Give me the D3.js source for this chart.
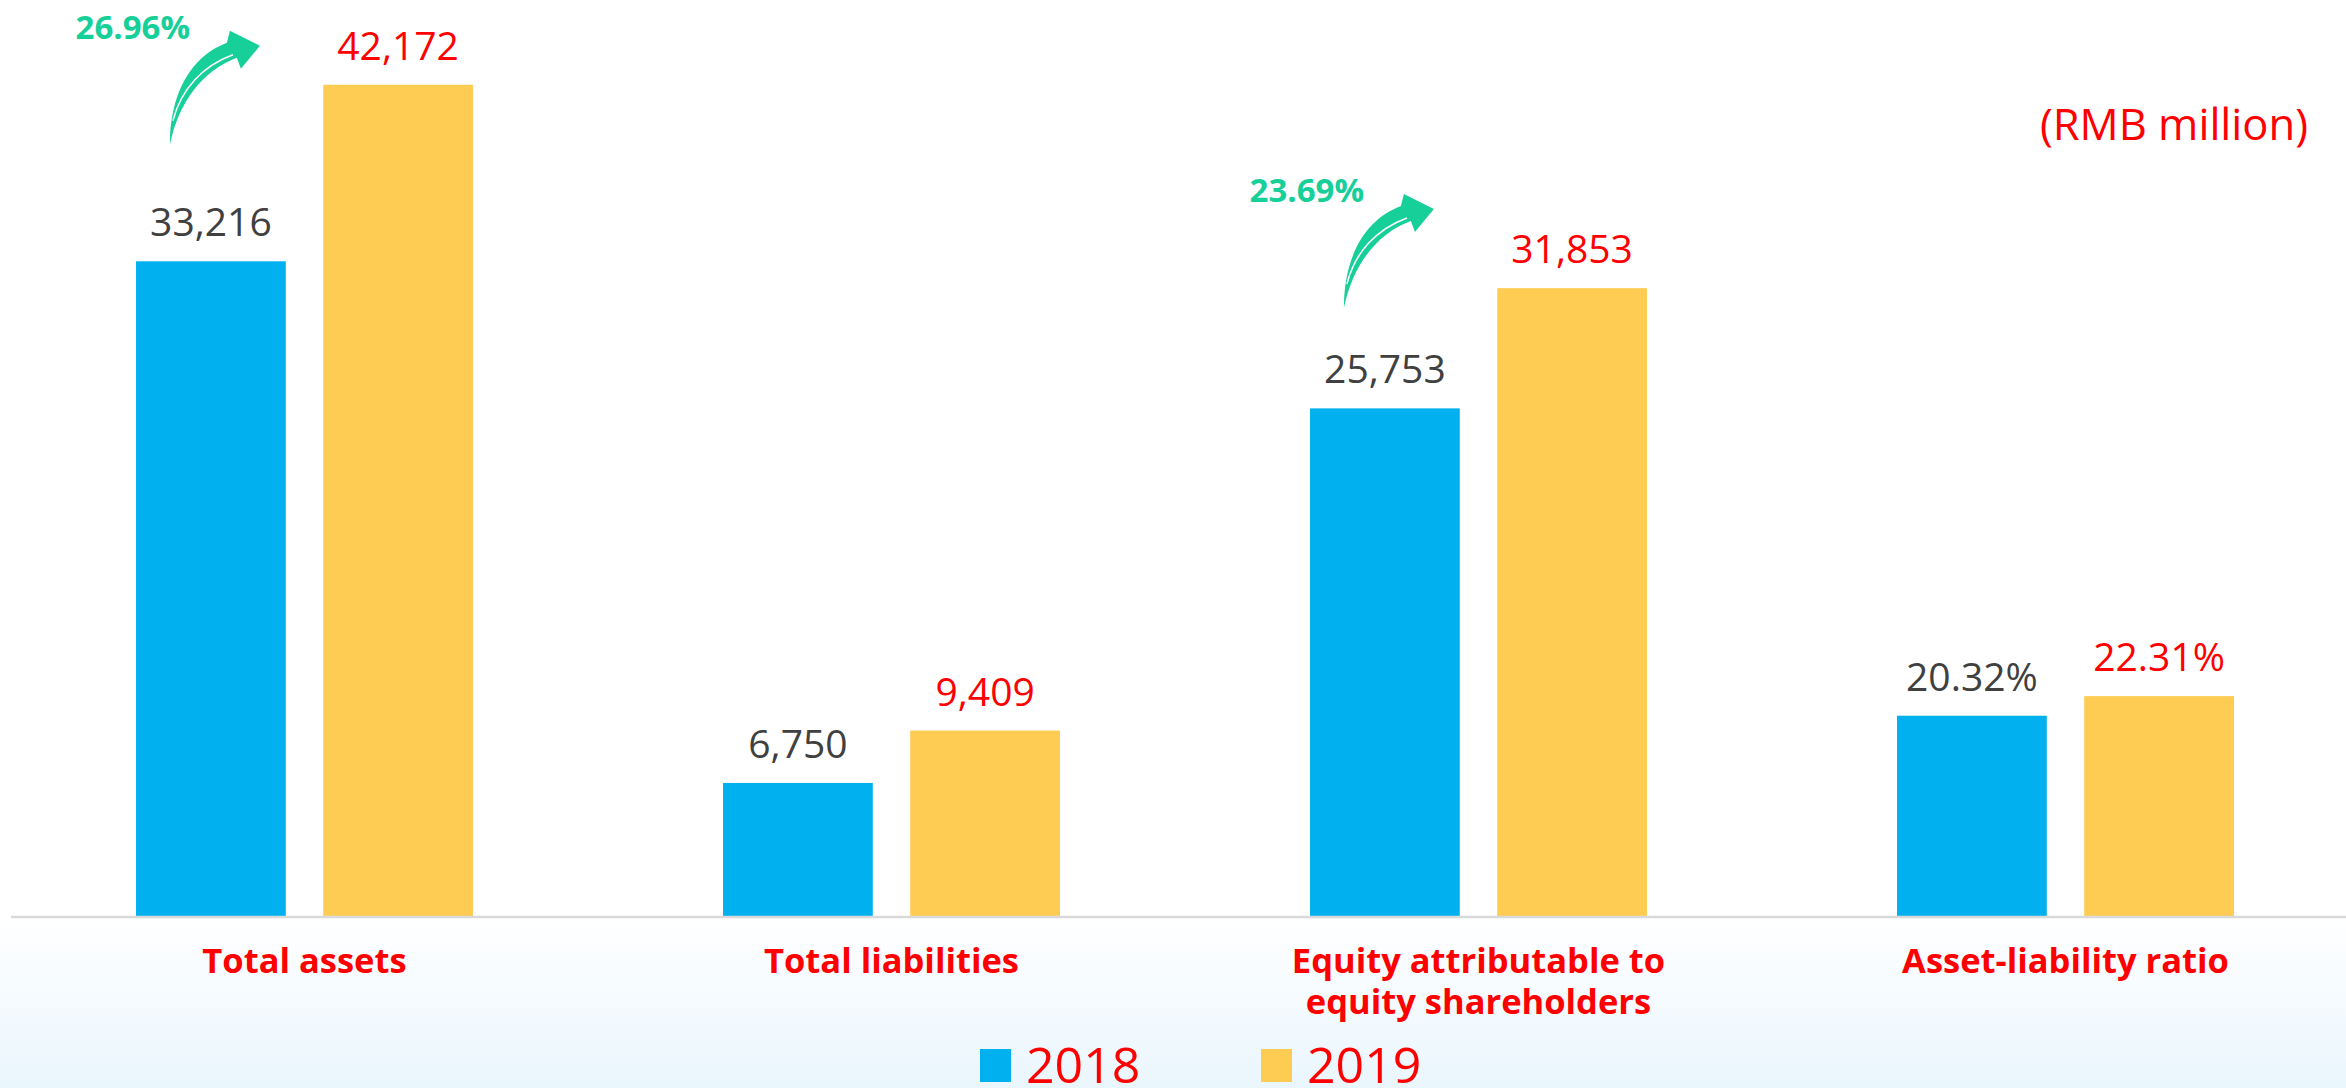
<!DOCTYPE html>
<html>
<head>
<meta charset="utf-8">
<script src="https://cdn.jsdelivr.net/npm/d3@7/dist/d3.min.js"></script>
<style>
  body { margin: 0; background: #fff; }
  text { font-family: "Open Sans", "Noto Sans", sans-serif; }
</style>
</head>
<body>
<div id="chart"></div>
<script>
var width = 2346;
var height = 1088;

// data
var categories = ["Total assets", "Total liabilities", "Equity attributable to equity shareholders", "Asset-liability ratio"];
var categoryLines = [["Total assets"], ["Total liabilities"], ["Equity attributable to", "equity shareholders"], ["Asset-liability ratio"]];
var series = ["2018", "2019"];
var values2018 = [33216, 6750, 25753, 20.32];
var values2019 = [42172, 9409, 31853, 22.31];
var labels2018 = ["33,216", "6,750", "25,753", "20.32%"];
var labels2019 = ["42,172", "9,409", "31,853", "22.31%"];
var isRatio = [false, false, false, true];
var growth = ["26.96%", null, "23.69%", null];

var colors = { "2018": "#00b0ef", "2019": "#ffcc53" };
var labelColors = { "2018": "#404040", "2019": "#ff0000" };
var green = "#17cf98";

var svg = d3.select("#chart")
    .append("svg")
    .attr("width", width)
    .attr("height", height);

var baseY = 916;

// background gradient under the axis
var defs = svg.append("defs");
var grad = defs.append("linearGradient")
    .attr("id", "bottomGrad")
    .attr("x1", 0).attr("y1", 0).attr("x2", 0).attr("y2", 1);
grad.append("stop").attr("offset", "0%").attr("stop-color", "#ffffff");
grad.append("stop").attr("offset", "100%").attr("stop-color", "#eaf6fd");

svg.append("rect")
    .attr("x", 0).attr("y", baseY)
    .attr("width", width).attr("height", height - baseY)
    .attr("fill", "url(#bottomGrad)");

// scales
var x0 = d3.scaleBand().domain(categories).range([11, 2359]);
var bw = x0.bandwidth();
var x1 = d3.scaleBand().domain(series).range([0.213 * bw, 0.787 * bw]).paddingInner(0.2);
var y = d3.scaleLinear().domain([0, 45000]).range([baseY, 29]);
var yRatio = d3.scaleLinear().domain([0, 90]).range([baseY, 29]);

var rows = categories.map(function(c, i) {
    return {
        cat: c, i: i,
        vals: [
            { s: "2018", v: values2018[i], label: labels2018[i] },
            { s: "2019", v: values2019[i], label: labels2019[i] }
        ]
    };
});

function yFor(d, i) { return isRatio[i] ? yRatio(d.v) : y(d.v); }

var groups = svg.selectAll("g.group")
    .data(rows)
    .enter()
    .append("g")
    .attr("class", "group")
    .attr("transform", function(d) { return "translate(" + x0(d.cat) + ",0)"; });

groups.each(function(row) {
    var g = d3.select(this);
    g.selectAll("rect")
        .data(row.vals)
        .enter()
        .append("rect")
        .attr("x", function(d) { return x1(d.s); })
        .attr("width", x1.bandwidth())
        .attr("y", function(d) { return yFor(d, row.i); })
        .attr("height", function(d) { return baseY - yFor(d, row.i); })
        .attr("fill", function(d) { return colors[d.s]; });

    g.selectAll("text.val")
        .data(row.vals)
        .enter()
        .append("text")
        .attr("class", "val")
        .attr("x", function(d) { return x1(d.s) + x1.bandwidth() / 2; })
        .attr("y", function(d) { return yFor(d, row.i) - 25; })
        .attr("text-anchor", "middle")
        .attr("font-size", 39)
        .attr("fill", function(d) { return labelColors[d.s]; })
        .text(function(d) { return d.label; });
});

// axis line
svg.append("line")
    .attr("x1", 11).attr("x2", width)
    .attr("y1", baseY + 1).attr("y2", baseY + 1)
    .attr("stroke", "#d9d9d9")
    .attr("stroke-width", 2.5);

// category labels
categoryLines.forEach(function(lines, i) {
    var cx = x0(categories[i]) + bw / 2;
    var t = svg.append("text")
        .attr("x", cx)
        .attr("y", 973)
        .attr("text-anchor", "middle")
        .attr("font-size", 34.5)
        .attr("font-weight", "bold")
        .attr("fill", "#ff0000");
    lines.forEach(function(l, k) {
        t.append("tspan")
            .attr("x", cx)
            .attr("dy", k === 0 ? 0 : 41)
            .text(l);
    });
});

// growth arrows, placed from the two bar tops
growth.forEach(function(g, i) {
    if (!g) return;
    var bc = x0(categories[i]) + x1("2018") + x1.bandwidth() / 2;
    var bt = y(values2018[i]);
    var yt = y(values2019[i]);
    var tx = bc - 41;
    var ty = bt - 66 - 0.286 * (bt - yt);
    var a = svg.append("g").attr("transform", "translate(" + tx + "," + ty + ")");
    a.append("path")
        .attr("d", "M0,0 C0,-50 20,-88 57,-102 L60,-114 L90,-99 L71,-76 L67,-87 C34,-75 9,-44 0,0 Z")
        .attr("fill", green);
    a.append("path")
        .attr("d", "M3,-24 C11,-56 33,-79 63,-90")
        .attr("fill", "none")
        .attr("stroke", "#ffffff")
        .attr("stroke-width", 1.5);
    svg.append("text")
        .attr("x", tx - 37)
        .attr("y", ty - 106)
        .attr("text-anchor", "middle")
        .attr("font-size", 33)
        .attr("font-weight", "bold")
        .attr("fill", green)
        .text(g);
});

// unit
svg.append("text")
    .attr("x", 2308)
    .attr("y", 140)
    .attr("text-anchor", "end")
    .attr("font-size", 43.5)
    .attr("fill", "#ff0000")
    .text("(RMB million)");

// legend
var legendX = [980, 1261];
series.forEach(function(s, i) {
    svg.append("rect")
        .attr("x", legendX[i]).attr("y", 1049)
        .attr("width", 31).attr("height", 33)
        .attr("fill", colors[s]);
    svg.append("text")
        .attr("x", legendX[i] + 46)
        .attr("y", 1083)
        .attr("font-size", 50)
        .attr("fill", "#ff0000")
        .text(s);
});
</script>
</body>
</html>
